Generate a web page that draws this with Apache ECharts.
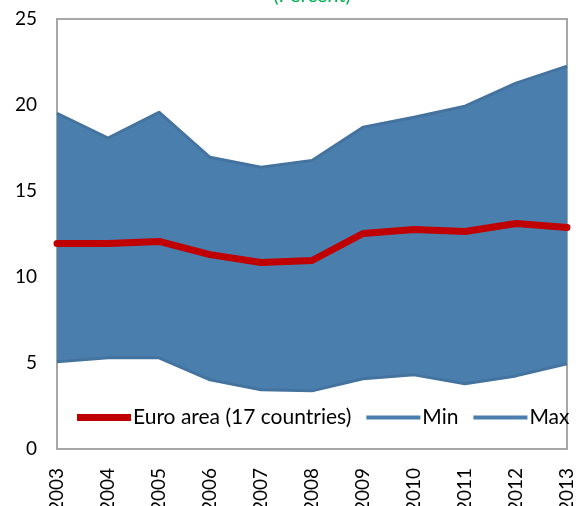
<!DOCTYPE html>
<html>
<head>
<meta charset="utf-8">
<script src="https://cdn.jsdelivr.net/npm/echarts@6/dist/echarts.min.js"></script>
<style>
  html, body { margin: 0; padding: 0; background: #fff; }
  #main { width: 578px; height: 506px; }
</style>
</head>
<body>
<div id="main"></div>
<script>
const years = ['2003', '2004', '2005', '2006', '2007', '2008', '2009', '2010', '2011', '2012', '2013'];
const euroArea = [11.95, 11.95, 12.07, 11.3, 10.84, 10.96, 12.53, 12.76, 12.65, 13.11, 12.88];
const minVals = [5.07, 5.3, 5.3, 4.02, 3.44, 3.38, 4.08, 4.31, 3.79, 4.25, 4.95];
const maxVals = [19.52, 18.07, 19.58, 16.96, 16.38, 16.78, 18.71, 19.29, 19.93, 21.27, 22.26];

// the band is drawn by stacking (max - min) on top of min
const bandVals = maxVals.map((v, i) => +(v - minVals[i]).toFixed(2));

const blue = '#4a7fad';
const red = '#c00000';
const fontFamily = 'Lato, "Open Sans", sans-serif';

// legend icons: thick red bar, thinner blue bar (degenerate subpaths keep the box height)
const redIcon = 'path://M0,0H54V7H0Z';
const blueIcon = 'path://M0,0L1,0Z M0,7L1,7Z M0,1.5H54V5.5H0Z';

const myChart = echarts.init(document.getElementById('main'));

const option = {
    animation: false,
    title: {
        text: '(Percent)',
        left: 307,
        textAlign: 'center',
        top: -19,
        textStyle: { color: '#00b050', fontSize: 20, fontWeight: 'normal', fontFamily: fontFamily }
    },
    grid: {
        left: 57, right: 11, top: 19, bottom: 57,
        outerBoundsMode: 'none',
        show: true, borderColor: '#a6a6a6', borderWidth: 2, backgroundColor: '#fff'
    },
    legend: {
        left: 72,
        top: 402,
        itemWidth: 54,
        itemHeight: 7,
        itemGap: 15,
        textStyle: { fontSize: 21, color: '#000', fontFamily: fontFamily, padding: [0, 0, 0, -3] },
        data: [
            { name: 'Euro area (17 countries)', icon: redIcon },
            { name: 'Min', icon: blueIcon },
            { name: 'Max', icon: blueIcon }
        ]
    },
    xAxis: {
        type: 'category',
        data: years,
        boundaryGap: false,
        axisLine: { show: false },
        axisTick: { show: false },
        axisLabel: { rotate: 90, fontSize: 19, color: '#000', margin: 19, fontFamily: fontFamily }
    },
    yAxis: {
        type: 'value',
        min: 0,
        max: 25,
        interval: 5,
        splitLine: { show: false },
        axisLine: { show: false },
        axisTick: { show: false },
        axisLabel: { fontSize: 19, color: '#000', margin: 20, fontFamily: fontFamily }
    },
    series: [
        {
            name: 'Min',
            type: 'line',
            stack: 'band',
            data: minVals,
            symbol: 'none',
            lineStyle: { color: '#44739f', width: 3 },
            itemStyle: { color: blue },
            z: 3
        },
        {
            name: 'Max',
            type: 'line',
            stack: 'band',
            data: bandVals,
            symbol: 'none',
            lineStyle: { color: '#44739f', width: 3 },
            itemStyle: { color: blue },
            areaStyle: { color: blue, opacity: 1 },
            z: 2
        },
        {
            name: 'Euro area (17 countries)',
            type: 'line',
            data: euroArea,
            symbol: 'none',
            lineStyle: { color: red, width: 7, cap: 'round' },
            itemStyle: { color: red },
            z: 5
        }
    ]
};

myChart.setOption(option);
</script>
</body>
</html>
